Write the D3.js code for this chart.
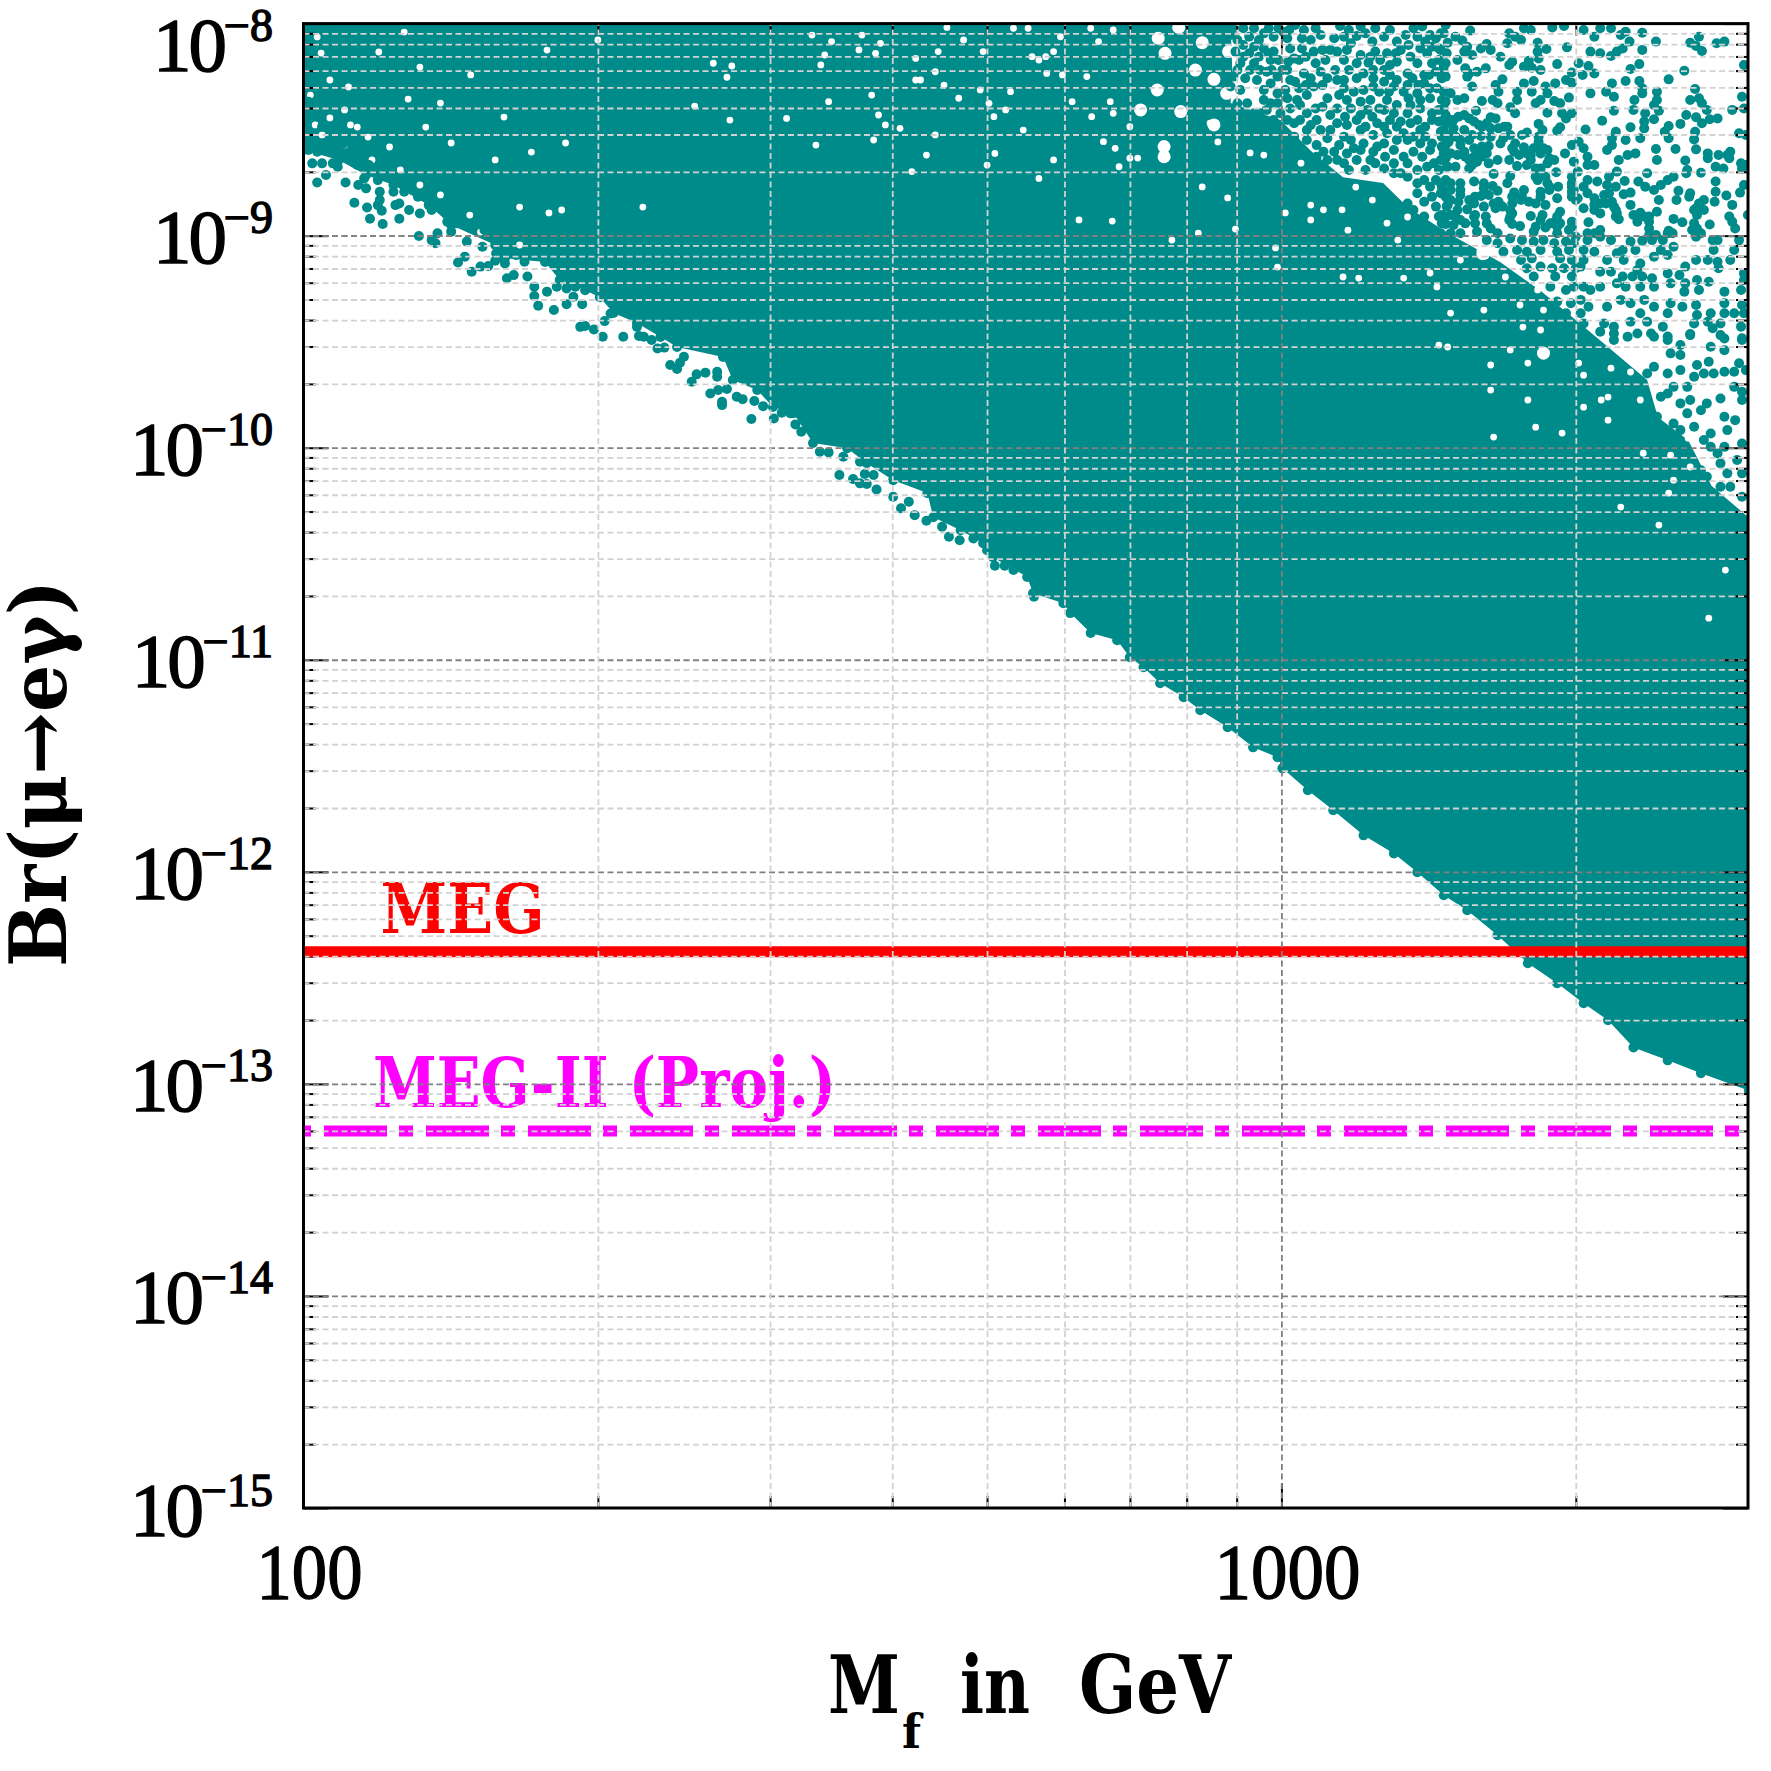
<!DOCTYPE html>
<html><head><meta charset="utf-8">
<style>html,body{margin:0;padding:0;background:#fff}svg{display:block}</style>
<script src="https://cdnjs.cloudflare.com/ajax/libs/d3/7.8.5/d3.min.js"></script>
</head><body><svg id="c" width="1771" height="1771"></svg>
<script>
// All pairs are [log10(M_f / GeV), log10(Br)]
const megLimit = 4.2e-13;
const megIIProjected = 6e-14;
const yTickExponents = [-8,-9,-10,-11,-12,-13,-14,-15];
const xTickLabels = [100,1000];
const xMinorTicks = [200,300,400,500,600,700,800,900,2000];
const minorMultipliers = [2,3,4,5,6,7,8,9];

// solid part of the cloud: upper edge left to right, then lower envelope
const cloudUpperEdge = [[2,-8],[2.948,-8],[2.950,-8.25],[2.948,-8.375],[2.999,-8.455],[3.03,-8.6],[3.063,-8.724],[3.104,-8.752],[3.129,-8.865],[3.170,-8.988],[3.224,-9.125],[3.265,-9.26],[3.301,-9.398],[3.334,-9.525],[3.374,-9.681],[3.385,-9.856],[3.416,-9.965],[3.44,-10.18],[3.478,-10.33]];
const cloudLowerEdge = [[2.000,-8.596],[2.036,-8.643],[2.064,-8.714],[2.092,-8.761],[2.128,-8.856],[2.151,-8.950],[2.196,-9.044],[2.205,-9.106],[2.247,-9.124],[2.262,-9.209],[2.273,-9.224],[2.303,-9.290],[2.317,-9.365],[2.341,-9.412],[2.365,-9.478],[2.382,-9.525],[2.429,-9.572],[2.439,-9.681],[2.464,-9.728],[2.480,-9.808],[2.501,-9.837],[2.521,-9.978],[2.556,-10.002],[2.576,-10.073],[2.603,-10.153],[2.638,-10.214],[2.644,-10.328],[2.672,-10.389],[2.695,-10.450],[2.705,-10.516],[2.740,-10.610],[2.746,-10.686],[2.777,-10.733],[2.784,-10.780],[2.805,-10.874],[2.832,-10.908],[2.845,-10.988],[2.859,-11.035],[2.876,-11.111],[2.900,-11.177],[2.917,-11.238],[2.945,-11.318],[2.971,-11.413],[2.996,-11.460],[3.001,-11.512],[3.027,-11.615],[3.053,-11.710],[3.084,-11.828],[3.115,-11.913],[3.139,-12.002],[3.166,-12.110],[3.190,-12.181],[3.221,-12.299],[3.252,-12.431],[3.282,-12.525],[3.309,-12.620],[3.334,-12.700],[3.360,-12.828],[3.395,-12.889],[3.429,-12.950],[3.478,-13.031]];

// unfilled flecks inside the solid part
const cloudGaps = [[2.433,-8.253],[2.438,-8.200],[2.419,-8.187],[2.400,-8.389],[2.436,-8.455],[2.494,-8.447],[2.520,-8.054],[2.540,-8.085],[2.571,-8.054],[2.590,-8.093],[2.568,-8.124],[2.585,-8.140],[2.533,-8.148],[2.529,-8.195],[2.537,-8.368],[2.581,-8.337],[2.588,-8.431],[2.595,-8.478],[2.610,-8.494],[2.626,-8.266],[2.631,-8.266],[2.626,-8.164],[2.646,-8.227],[2.655,-8.290],[2.670,-8.352],[2.658,-8.018],[2.675,-8.077],[2.649,-8.132],[2.692,-8.313],[2.701,-8.376],[2.718,-8.407],[2.706,-8.439],[2.695,-8.132],[2.726,-8.022],[2.741,-8.022],[2.745,-8.156],[2.759,-8.156],[2.752,-8.172],[2.767,-8.132],[2.776,-8.242],[2.760,-8.235],[2.774,-8.062],[2.805,-8.022],[2.813,-8.085],[2.828,-8.030],[2.801,-8.250],[2.806,-8.439],[2.828,-8.423],[2.825,-8.368],[2.786,-8.368],[2.736,-8.502],[2.646,-8.525],[2.707,-8.612],[2.767,-8.643],[2.830,-8.588],[2.845,-8.635],[2.834,-8.675],[2.752,-8.730],[2.793,-8.926],[2.827,-8.931],[2.723,-8.321],[2.583,-8.549],[2.524,-8.573],[2.622,-8.698],[2.637,-8.620],[2.699,-8.667],[2.845,-8.486],[2.818,-8.557],
[2.103,-8.040],[2.119,-8.205],[2.077,-8.134],[2.171,-8.242],[2.107,-8.356],[2.140,-8.375],[2.066,-8.535],[2.055,-8.488],[2.125,-8.488],[2.151,-8.563],[2.088,-8.582],[2.196,-8.643],[2.233,-8.606],[2.205,-8.441],[2.249,-8.125],[2.301,-8.077],[2.268,-8.563],[2.046,-8.299],[2.018,-8.139],[2.014,-8.063],[2.347,-8.865],[2.221,-8.865],[2.251,-8.893],[2.264,-8.879],[2.027,-8.266],[2.007,-8.337],[2.042,-8.407],
[2.019,-8.525],[2.042,-8.572],[2.070,-8.643],[2.099,-8.690],[2.119,-8.761],[2.140,-8.808],[2.170,-8.903],[2.181,-8.983],[2.221,-9.044],[2.048,-8.478],[2.027,-8.445],[2.012,-8.478],
[2.879,-8.582],[2.883,-8.629],[2.853,-8.634],[2.919,-8.770],[2.945,-8.822],[2.888,-9.021],[2.915,-8.988],[2.953,-8.969],[2.994,-9.058],[2.996,-9.148],[3.004,-8.893],[2.968,-8.610],[2.982,-8.620],[2.935,-8.558],[2.927,-8.469],[3.063,-9.195],[3.079,-9.200],[3.152,-9.176],[3.125,-9.200],[3.159,-9.242],[3.030,-8.856],[3.043,-8.878],[3.062,-8.878],[3.093,-8.832],[3.076,-8.771],[3.030,-8.926],[3.108,-8.941],[3.129,-8.912],[3.119,-9.021],[3.068,-8.974],[3.020,-8.658],[3.058,-8.676],
[3.206,-9.082],[3.203,-9.070],[3.209,-9.095],[3.183,-9.115],[3.229,-9.195],[3.262,-9.256],[3.268,-9.351],[3.244,-9.327],[3.207,-9.351],[3.173,-9.365],[3.247,-9.431],[3.265,-9.445],
[3.268,-9.554],[3.214,-9.728],[3.214,-9.610],[3.252,-9.601],[3.170,-9.525],[3.234,-9.539],[3.304,-9.601],[3.309,-9.658],[3.337,-9.625],[3.357,-9.643],[3.334,-9.761],[3.309,-9.809],[3.367,-9.775],[3.398,-9.823],[3.436,-9.903],[3.416,-9.955],[3.217,-9.950],[3.287,-9.931],[3.260,-9.903],[3.252,-9.775],[3.334,-9.870],[3.370,-10.026],[3.398,-10.035],[3.418,-10.091],[3.401,-10.153],[3.396,-10.214],[3.386,-10.365],[3.454,-10.577],[3.437,-10.804],[3.347,-10.280],[3.161,-9.516],[3.327,-9.775]];
const cloudGapsLarge = [[2.895,-8.018],[2.874,-8.069],[2.919,-8.090],[2.881,-8.140],[2.946,-8.132],[2.912,-8.219],[2.931,-8.263],[2.944,-8.329],[2.873,-8.313],[2.856,-8.407],[2.897,-8.415],[2.880,-8.580],[2.880,-8.628],[2.931,-8.478],[3.206,-9.085],[3.268,-9.554]];

// individually visible points: upper right
const sparsePointsRight = [[3.248,-8.022],[3.255,-8.030],[3.277,-8.018],[3.289,-8.011],[3.309,-8.030],[3.326,-8.022],[3.337,-8.022],[3.320,-8.062],[3.352,-8.038],[3.369,-8.043],[3.193,-8.033],[3.233,-8.046],[3.166,-8.046],[3.178,-8.062],[3.347,-8.054],
[3.170,-8.090],[3.185,-8.080],[3.190,-8.109],[3.210,-8.096],[3.204,-8.117],[3.231,-8.093],[3.239,-8.062],[3.245,-8.077],[3.262,-8.090],[3.292,-8.112],[3.271,-8.120],[3.262,-8.132],[3.214,-8.124],[3.195,-8.148],[3.187,-8.132],[3.316,-8.132],[3.326,-8.140],[3.337,-8.153],[3.343,-8.132],[3.349,-8.117],[3.356,-8.085],[3.383,-8.085],[3.369,-8.124],[3.418,-8.090],[3.424,-8.106],[3.430,-8.129],[3.427,-8.062],[3.445,-8.093],[3.453,-8.085],
[3.180,-8.172],[3.168,-8.187],[3.224,-8.156],[3.236,-8.180],[3.233,-8.195],[3.253,-8.175],[3.248,-8.203],[3.256,-8.208],[3.263,-8.164],[3.282,-8.191],[3.265,-8.219],[3.209,-8.211],[3.188,-8.211],[3.200,-8.227],[3.192,-8.235],[3.304,-8.187],[3.314,-8.200],[3.308,-8.242],[3.320,-8.235],[3.357,-8.214],[3.366,-8.191],[3.412,-8.222],[3.473,-8.195],[3.297,-8.231],[3.166,-8.227],
[3.164,-8.258],[3.190,-8.250],[3.226,-8.263],[3.219,-8.290],[3.222,-8.321],[3.195,-8.297],[3.248,-8.282],[3.258,-8.271],[3.270,-8.297],[3.280,-8.282],[3.291,-8.266],[3.297,-8.279],[3.241,-8.321],[3.256,-8.321],[3.272,-8.329],[3.173,-8.329],[3.166,-8.321],[3.316,-8.329],[3.332,-8.321],[3.338,-8.282],[3.340,-8.345],[3.352,-8.271],[3.366,-8.271],[3.369,-8.305],[3.369,-8.329],[3.384,-8.321],[3.396,-8.263],[3.423,-8.308],[3.471,-8.345],
[3.187,-8.352],[3.180,-8.360],[3.168,-8.368],[3.205,-8.365],[3.216,-8.360],[3.221,-8.376],[3.241,-8.360],[3.234,-8.395],[3.265,-8.360],[3.260,-8.376],[3.279,-8.365],[3.294,-8.349],[3.285,-8.376],[3.199,-8.411],[3.272,-8.420],[3.239,-8.423],[3.287,-8.423],[3.297,-8.423],[3.291,-8.447],[3.361,-8.360],[3.384,-8.360],[3.381,-8.384],[3.418,-8.360],[3.427,-8.352],[3.430,-8.376],[3.435,-8.407],[3.461,-8.407],[3.473,-8.400],[3.340,-8.411],[3.360,-8.407],[3.372,-8.423],[3.386,-8.411],[3.414,-8.431],[3.424,-8.442],
[3.166,-8.455],[3.176,-8.455],[3.187,-8.431],[3.197,-8.462],[3.214,-8.442],[3.219,-8.447],[3.205,-8.486],[3.214,-8.494],[3.228,-8.486],[3.231,-8.486],[3.263,-8.473],[3.267,-8.502],[3.285,-8.489],[3.282,-8.505],[3.166,-8.502],[3.328,-8.458],[3.357,-8.489],[3.371,-8.462],[3.381,-8.451],[3.371,-8.494],[3.408,-8.473],[3.430,-8.470],[3.438,-8.451],[3.446,-8.447],[3.396,-8.483],[3.392,-8.510],[3.423,-8.510],[3.311,-8.499],[3.342,-8.510],[3.468,-8.517],[3.475,-8.525],[3.246,-8.525],[3.251,-8.514],
[3.178,-8.533],[3.204,-8.530],[3.234,-8.525],[3.192,-8.549],[3.171,-8.557],[3.183,-8.573],[3.164,-8.580],[3.263,-8.533],[3.205,-8.580],[3.212,-8.577],[3.224,-8.565],[3.239,-8.565],[3.263,-8.557],[3.248,-8.583],[3.272,-8.596],[3.297,-8.573],[3.304,-8.557],[3.309,-8.588],[3.338,-8.541],[3.338,-8.573],[3.352,-8.549],[3.367,-8.541],[3.396,-8.541],[3.422,-8.546],[3.333,-8.596],[3.383,-8.591],[3.403,-8.591],[3.424,-8.593],[3.290,-8.612],[3.204,-8.612],[3.187,-8.604],[3.238,-8.604],[3.258,-8.588],[3.436,-8.612],[3.447,-8.620],[3.459,-8.604],[3.456,-8.620],
[3.168,-8.635],[3.180,-8.620],[3.205,-8.628],[3.221,-8.643],[3.233,-8.643],[3.243,-8.620],[3.255,-8.620],[3.279,-8.643],[3.299,-8.651],[3.313,-8.628],[3.354,-8.620],[3.362,-8.612],[3.345,-8.643],[3.384,-8.643],[3.413,-8.646],[3.436,-8.635],[3.458,-8.635],[3.470,-8.659],[3.475,-8.667],[3.170,-8.675],[3.178,-8.675],[3.195,-8.667],[3.192,-8.683],[3.241,-8.672],[3.265,-8.683],[3.272,-8.659],[3.320,-8.667],[3.313,-8.667],[3.444,-8.675],[3.452,-8.683],[3.415,-8.690],[3.471,-8.683],[3.217,-8.709],[3.234,-8.719],[3.281,-8.701],[3.303,-8.698],[3.335,-8.722],[3.343,-8.698],[3.374,-8.706],[3.414,-8.706],[3.429,-8.703],[3.260,-8.722],[3.251,-8.667],
[3.163,-8.753],[3.173,-8.753],[3.183,-8.753],[3.197,-8.745],[3.207,-8.777],[3.216,-8.766],[3.231,-8.753],[3.262,-8.738],[3.272,-8.753],[3.283,-8.769],[3.297,-8.753],[3.299,-8.785],[3.313,-8.738],[3.323,-8.745],[3.333,-8.761],[3.342,-8.769],[3.351,-8.742],[3.365,-8.745],[3.372,-8.769],[3.381,-8.785],[3.388,-8.761],[3.395,-8.738],[3.401,-8.722],[3.444,-8.745],[3.473,-8.761],[3.248,-8.785],[3.238,-8.796],[3.265,-8.793],[3.274,-8.785],[3.297,-8.816],[3.313,-8.800],[3.330,-8.808],[3.350,-8.805],[3.357,-8.797],[3.406,-8.788],[3.418,-8.800],[3.444,-8.793],[3.455,-8.811],[3.469,-8.797],[3.221,-8.788],[3.204,-8.813],[3.183,-8.808],[3.212,-8.808],
[3.181,-8.840],[3.197,-8.848],[3.170,-8.855],[3.222,-8.840],[3.245,-8.832],[3.253,-8.840],[3.260,-8.848],[3.270,-8.855],[3.282,-8.824],[3.303,-8.824],[3.320,-8.824],[3.320,-8.855],[3.332,-8.848],[3.338,-8.840],[3.386,-8.832],[3.404,-8.832],[3.417,-8.816],[3.432,-8.832],[3.443,-8.840],[3.427,-8.848],[3.461,-8.855],[3.180,-8.879],[3.190,-8.876],[3.207,-8.863],[3.219,-8.871],[3.236,-8.848],[3.234,-8.879],[3.309,-8.871],[3.357,-8.855],[3.342,-8.879],[3.424,-8.871],[3.432,-8.879],[3.285,-8.887],[3.267,-8.903],[3.255,-8.907],[3.282,-8.910],[3.326,-8.895],[3.384,-8.887],[3.367,-8.892],[3.360,-8.903],[3.477,-8.903],[3.178,-8.910],[3.164,-8.903],[3.198,-8.903],[3.342,-8.910],[3.425,-8.903],[3.458,-8.910],
[3.168,-8.945],[3.176,-8.950],[3.188,-8.942],[3.198,-8.942],[3.210,-8.942],[3.214,-8.966],[3.236,-8.945],[3.244,-8.955],[3.260,-8.958],[3.270,-8.961],[3.280,-8.934],[3.297,-8.934],[3.294,-8.973],[3.314,-8.937],[3.345,-8.923],[3.364,-8.934],[3.376,-8.934],[3.401,-8.921],[3.410,-8.937],[3.422,-8.942],[3.438,-8.947],[3.461,-8.934],[3.464,-8.966],[3.200,-8.981],[3.183,-8.989],[3.173,-8.989],[3.221,-8.989],[3.258,-8.981],[3.282,-8.989],[3.313,-8.989],[3.326,-8.973],[3.320,-8.989],[3.376,-8.966],[3.396,-8.977],[3.425,-8.966],[3.420,-8.973],[3.383,-8.997],[3.400,-8.989],[3.376,-8.997],
[3.313,-9.021],[3.326,-9.005],[3.337,-9.021],[3.357,-9.028],[3.369,-9.024],[3.379,-9.021],[3.390,-9.021],[3.401,-9.052],[3.388,-9.068],[3.441,-9.021],[3.468,-9.021],[3.463,-9.068],[3.442,-9.068],[3.309,-9.068],[3.320,-9.076],[3.349,-9.068],[3.343,-9.083],[3.362,-9.068],[3.381,-9.099],[3.395,-9.091],[3.333,-9.115],[3.309,-9.115],[3.306,-9.146],[3.350,-9.115],[3.367,-9.131],[3.364,-9.162],[3.413,-9.146],[3.424,-9.115],[3.436,-9.115],[3.446,-9.123],[3.459,-9.115],[3.473,-9.178],[3.447,-9.154],[3.326,-9.170],[3.337,-9.170],[3.349,-9.193],[3.359,-9.193],[3.369,-9.193],[3.379,-9.201],[3.395,-9.178],[3.407,-9.186],[3.473,-9.209],[3.398,-9.225],[3.413,-9.225],[3.425,-9.209],[3.437,-9.217],[3.309,-9.241],[3.316,-9.256],[3.326,-9.241],[3.343,-9.225],[3.352,-9.241],[3.367,-9.241],[3.381,-9.241],[3.412,-9.264],[3.427,-9.256],[3.453,-9.264],[3.470,-9.256],[3.306,-9.303],[3.314,-9.335],[3.333,-9.335],[3.347,-9.303],[3.357,-9.319],[3.371,-9.303],[3.381,-9.335],[3.398,-9.319],[3.410,-9.335],[3.424,-9.327],[3.453,-9.319],[3.471,-9.327],[3.306,-9.366],[3.367,-9.366],[3.395,-9.366],[3.425,-9.374],[3.439,-9.366],[3.453,-9.366],[3.463,-9.366],[3.473,-9.366],[3.309,-9.414],[3.330,-9.414],[3.340,-9.429],[3.357,-9.406],[3.374,-9.406],[3.390,-9.429],[3.422,-9.414],[3.436,-9.406],[3.449,-9.414],[3.470,-9.429],[3.326,-9.453],[3.340,-9.461],[3.364,-9.461],[3.378,-9.461],[3.395,-9.476],[3.418,-9.464],[3.441,-9.437],[3.449,-9.469],[3.471,-9.484],
[3.340,-9.492],[3.354,-9.477],[3.381,-9.477],[3.395,-9.492],[3.398,-9.555],[3.408,-9.516],[3.418,-9.469],[3.408,-9.563],[3.381,-9.618],[3.374,-9.650],[3.395,-9.650],[3.408,-9.634],[3.425,-9.610],[3.437,-9.595],[3.453,-9.485],[3.439,-9.524],[3.471,-9.492],[3.453,-9.540],[3.468,-9.602],[3.453,-9.642],[3.463,-9.642],[3.475,-9.634],[3.442,-9.650],[3.432,-9.650],[3.422,-9.665],[3.401,-9.713],[3.388,-9.760],[3.415,-9.713],[3.463,-9.713],[3.471,-9.736],[3.418,-9.775],[3.435,-9.791],[3.449,-9.768],[3.471,-9.775],[3.429,-9.823],[3.453,-9.854],[3.464,-9.870],[3.408,-9.791],[3.395,-9.744],[3.415,-9.838],[3.422,-9.901],[3.439,-9.933],[3.456,-9.917],[3.471,-9.980],[3.453,-9.996],[3.432,-9.964],[3.401,-9.886],[3.408,-9.917],[3.384,-9.854],[3.439,-9.996],[3.449,-10.074],[3.435,-10.137],[3.456,-10.121],[3.432,-10.184],[3.442,-10.216],[3.466,-10.058],[3.471,-10.121],[3.449,-10.184],[3.459,-10.184],[3.471,-10.231],[3.429,-10.106],[3.446,-10.027],
[3.210,-9.021],[3.221,-9.036],[3.234,-9.013],[3.246,-9.021],[3.258,-9.028],[3.268,-9.021],[3.279,-9.036],[3.291,-9.028],[3.299,-9.036],[3.227,-9.076],[3.241,-9.068],[3.251,-9.076],[3.265,-9.068],[3.282,-9.076],[3.294,-9.068],[3.245,-9.115],[3.256,-9.107],[3.285,-9.107],[3.297,-9.115],[3.251,-9.154],[3.265,-9.146],[3.277,-9.154],[3.289,-9.154],[3.301,-9.154],[3.280,-9.193],[3.297,-9.193],[3.258,-9.193],[3.275,-9.241],[3.291,-9.256],[3.299,-9.241],[3.282,-9.311],[3.296,-9.319],[3.291,-9.366],
[3.173,-8.455],[3.181,-8.439],[3.192,-8.447],[3.202,-8.478],[3.210,-8.470],[3.222,-8.494],[3.176,-8.494],[3.187,-8.502],[3.195,-8.525],[3.214,-8.533],[3.227,-8.541],[3.173,-8.525],[3.164,-8.533],[3.183,-8.549],[3.197,-8.588],[3.210,-8.612],[3.197,-8.628],[3.192,-8.643],[3.200,-8.651],[3.212,-8.659],[3.188,-8.628],[3.173,-8.612],[3.255,-8.643],[3.265,-8.612],[3.268,-8.588],[3.262,-8.580],[3.236,-8.588],[3.251,-8.612],[3.274,-8.635],[3.260,-8.683],[3.265,-8.706],[3.270,-8.722],[3.274,-8.769],[3.265,-8.816],[3.246,-8.816],[3.236,-8.816],[3.226,-8.863],[3.217,-8.848],[3.173,-8.832],[3.168,-8.816],[3.192,-8.832],[3.198,-8.816],[3.183,-8.785],[3.207,-8.753],[3.173,-8.785],[3.163,-8.800],[3.164,-8.942],[3.163,-8.989],[3.183,-8.926],[3.197,-8.910],[3.209,-8.910],[3.173,-8.903],[3.285,-8.942],[3.275,-8.942],[3.265,-8.926],[3.297,-8.958],[3.282,-8.958],[3.301,-9.005],[3.234,-8.910],[3.233,-8.926],[3.236,-8.895],[3.297,-8.722],[3.297,-8.769],[3.297,-8.793],[3.301,-8.832],[3.309,-8.769],[3.335,-8.800],[3.340,-8.863],[3.343,-8.895],[3.320,-8.879],[3.326,-8.848],[3.371,-8.910],[3.376,-8.910],[3.422,-8.879],[3.429,-8.989],[3.424,-9.005],[3.395,-8.989],[3.446,-9.021]];

// individually visible points: upper middle
const sparsePointsMiddle = [[2.948,-8.054],[2.961,-8.022],[2.972,-8.022],[2.982,-8.046],[2.992,-8.062],[2.961,-8.101],[2.972,-8.109],[2.982,-8.117],[2.992,-8.132],[2.961,-8.156],[2.972,-8.187],[2.978,-8.219],[2.989,-8.172],[2.955,-8.219],[2.968,-8.219],[2.985,-8.227],[2.996,-8.250],[2.948,-8.297],[2.982,-8.313],[2.996,-8.329],[2.989,-8.376],[2.965,-8.376],[2.972,-8.423],[2.978,-8.423],[2.955,-8.376],[2.996,-8.376],
[2.951,-8.022],[2.955,-8.077],[2.967,-8.062],[2.977,-8.077],[2.987,-8.022],[2.997,-8.022],[2.953,-8.132],[2.967,-8.140],[2.977,-8.156],[2.987,-8.140],[2.997,-8.172],[2.958,-8.187],[2.990,-8.219],[2.963,-8.258],[2.975,-8.266],[2.989,-8.282],[3.001,-8.219],[2.951,-8.250],[2.958,-8.313],[2.982,-8.360],[2.955,-8.431],[2.963,-8.439],[2.985,-8.407],[2.999,-8.423],[2.992,-8.455],
[3.008,-8.030],[3.023,-8.030],[3.006,-8.069],[3.021,-8.069],[3.035,-8.022],[3.060,-8.011],[3.081,-8.014],[3.064,-8.062],[3.077,-8.058],[3.093,-8.085],[3.105,-8.062],[3.118,-8.085],[3.135,-8.022],[3.144,-8.014],[3.139,-8.062],[3.152,-8.054],[3.163,-8.046],[3.168,-8.007],[3.147,-8.085],[3.161,-8.117],[3.158,-8.069],[3.009,-8.117],[3.021,-8.117],[3.033,-8.132],[3.050,-8.124],[3.067,-8.124],[3.081,-8.148],[3.096,-8.132],[3.108,-8.140],[3.122,-8.124],[3.132,-8.156],[3.149,-8.140],[3.163,-8.124],[3.169,-8.140],[3.007,-8.180],[3.018,-8.172],[3.035,-8.187],[3.045,-8.172],[3.064,-8.172],[3.089,-8.184],[3.101,-8.172],[3.111,-8.195],[3.118,-8.180],[3.161,-8.172],[3.006,-8.219],[3.023,-8.235],[3.040,-8.227],[3.055,-8.219],[3.069,-8.219],[3.084,-8.235],[3.094,-8.219],[3.111,-8.242],[3.129,-8.235],[3.146,-8.242],[3.158,-8.227],[3.168,-8.250],[3.014,-8.274],[3.030,-8.258],[3.047,-8.258],[3.064,-8.266],[3.077,-8.258],[3.105,-8.274],[3.118,-8.266],[3.129,-8.290],[3.164,-8.258],[3.004,-8.313],[3.018,-8.305],[3.033,-8.297],[3.059,-8.337],[3.074,-8.321],[3.100,-8.321],[3.115,-8.297],[3.146,-8.282],[3.159,-8.305],[3.169,-8.321],[3.016,-8.360],[3.026,-8.337],[3.047,-8.352],[3.067,-8.360],[3.081,-8.368],[3.091,-8.360],[3.108,-8.360],[3.125,-8.321],[3.139,-8.329],[3.152,-8.352],[3.164,-8.360],[3.009,-8.400],[3.026,-8.423],[3.042,-8.392],[3.057,-8.400],[3.071,-8.400],[3.088,-8.407],[3.100,-8.400],[3.115,-8.423],[3.129,-8.423],[3.142,-8.400],[3.154,-8.423],[3.166,-8.400],[3.013,-8.470],[3.006,-8.455],[3.036,-8.455],[3.057,-8.470],[3.077,-8.455],[3.098,-8.470],[3.111,-8.455],[3.122,-8.462],[3.139,-8.455],[3.161,-8.462],[3.169,-8.470],[3.168,-8.431],[3.026,-8.502],[3.040,-8.502],[3.064,-8.533],[3.081,-8.502],[3.094,-8.525],[3.108,-8.517],[3.125,-8.517],[3.142,-8.502],[3.163,-8.510],[3.013,-8.533],[3.047,-8.541],[3.071,-8.549],[3.084,-8.565],[3.105,-8.565],[3.129,-8.549],[3.142,-8.565],[3.154,-8.565],[3.168,-8.573],[3.020,-8.588],[3.036,-8.573],[3.054,-8.604],[3.067,-8.612],[3.081,-8.596],[3.094,-8.604],[3.115,-8.596],[3.135,-8.604],[3.152,-8.596],[3.166,-8.612],[3.057,-8.643],[3.047,-8.643],[3.077,-8.643],[3.091,-8.643],[3.115,-8.659],[3.129,-8.659],[3.156,-8.659],[3.169,-8.675],[3.086,-8.690],[3.105,-8.683],[3.129,-8.722],[3.146,-8.738],[3.168,-8.738],[3.152,-8.769],[3.139,-8.800],[3.166,-8.800],[3.146,-8.840],[3.169,-8.863],[3.166,-8.942],[3.129,-8.848],
[3.002,-8.038],[3.014,-8.007],[3.030,-8.077],[3.040,-8.054],[3.054,-8.069],[3.069,-8.030],[3.086,-8.046],[3.096,-8.022],[3.111,-8.030],[3.127,-8.054],[3.130,-8.101],[3.142,-8.117],[3.154,-8.109],[3.071,-8.093],[3.057,-8.132],[3.042,-8.124],[3.025,-8.156],[3.013,-8.164],[3.077,-8.187],[3.094,-8.258],[3.091,-8.156],[3.117,-8.140],[3.139,-8.187],[3.154,-8.187],[3.166,-8.203],[3.134,-8.258],[3.151,-8.242],[3.140,-8.290],[3.152,-8.305],[3.105,-8.219],[3.057,-8.266],[3.042,-8.290],[3.025,-8.290],[3.009,-8.266],[3.064,-8.305],[3.084,-8.313],[3.094,-8.297],[3.110,-8.321],[3.130,-8.352],[3.142,-8.360],[3.132,-8.384],[3.118,-8.384],[3.105,-8.407],[3.093,-8.439],[3.081,-8.431],[3.065,-8.439],[3.050,-8.431],[3.035,-8.400],[3.019,-8.384],[3.006,-8.352],[3.019,-8.455],[3.030,-8.478],[3.050,-8.502],[3.067,-8.478],[3.086,-8.486],[3.105,-8.486],[3.118,-8.486],[3.132,-8.470],[3.147,-8.486],[3.154,-8.455],[3.161,-8.407],[3.147,-8.533],[3.135,-8.533],[3.118,-8.549],[3.098,-8.580],[3.074,-8.588],[3.059,-8.573],[3.043,-8.604],[3.026,-8.549],[3.036,-8.628],[3.064,-8.659],[3.069,-8.690],[3.096,-8.659],[3.106,-8.628],[3.125,-8.628],[3.144,-8.628],[3.163,-8.643],[3.149,-8.675],[3.139,-8.690],[3.122,-8.706],[3.115,-8.706],[3.161,-8.690],[3.139,-8.753],[3.158,-8.738],[3.164,-8.769],[3.154,-8.816],[3.158,-8.863],[3.161,-8.910],[3.146,-8.910],[3.135,-8.879],[3.168,-8.910]];

// individually visible points: lower-left fringe of the cloud
const fringePoints = [[2.005,-8.368],[2.016,-8.337],[2.007,-8.423],[2.019,-8.486],[2.037,-8.470],[2.009,-8.549],[2.028,-8.549],[2.041,-8.565],[2.005,-8.596],[2.014,-8.604],[2.046,-8.628],[2.019,-8.659],[2.009,-8.659],[2.030,-8.659],[2.055,-8.667],[2.067,-8.667],[2.080,-8.667],[2.087,-8.643],[2.035,-8.675],[2.044,-8.635],[2.023,-8.714],[2.014,-8.749],[2.043,-8.749],[2.062,-8.730],[2.056,-8.761],[2.064,-8.777],[2.076,-8.738],[2.094,-8.745],[2.092,-8.793],[2.103,-8.793],[2.078,-8.793],[2.078,-8.832],[2.052,-8.845],[2.065,-8.867],[2.076,-8.856],[2.094,-8.856],[2.098,-8.848],[2.080,-8.882],[2.108,-8.879],[2.068,-8.920],[2.098,-8.920],[2.081,-8.945],[2.119,-8.895],[2.131,-8.879],[2.118,-9.002],[2.131,-9.021],[2.137,-8.989],[2.135,-9.036],[2.117,-8.816],[2.124,-8.800],[2.147,-8.895],[2.147,-8.934],[2.165,-8.871],[2.181,-8.911],[2.197,-8.911],[2.156,-8.942],[2.169,-8.958],[2.151,-8.981],[2.185,-8.973],[2.197,-8.966],[2.167,-9.028],[2.183,-9.052],[2.197,-9.083],[2.165,-9.099],[2.158,-9.127],[2.172,-9.170],[2.181,-9.146],[2.189,-9.143],[2.196,-9.118],[2.206,-9.107],[2.206,-9.131],[2.208,-9.201],[2.217,-9.091],[2.215,-9.186],[2.229,-9.193],[2.226,-9.123],[2.236,-9.241],[2.236,-9.285],[2.249,-9.264],[2.259,-9.241],[2.270,-9.241],[2.240,-9.330],[2.256,-9.351],
[2.269,-9.249],[2.278,-9.241],[2.288,-9.257],[2.276,-9.288],[2.274,-9.197],[2.269,-9.323],[2.285,-9.323],[2.314,-9.367],[2.283,-9.430],[2.288,-9.426],[2.297,-9.442],[2.306,-9.477],[2.327,-9.477],[2.308,-9.403],[2.341,-9.430],[2.343,-9.473],[2.348,-9.477],[2.356,-9.492],[2.362,-9.532],[2.369,-9.528],[2.375,-9.610],[2.382,-9.629],[2.385,-9.599],[2.389,-9.571],[2.397,-9.689],[2.402,-9.654],[2.411,-9.646],[2.423,-9.642],[2.423,-9.665],[2.424,-9.728],[2.416,-9.744],[2.428,-9.783],[2.428,-9.799],[2.433,-9.723],[2.443,-9.760],[2.449,-9.771],[2.458,-9.865],[2.461,-9.780],[2.470,-9.804],[2.481,-9.862],[2.489,-9.835],[2.498,-9.838],[2.503,-9.890],[2.509,-9.925],[2.528,-10.019],[2.537,-10.022],[2.552,-10.043],[2.548,-10.129],[2.562,-10.148],[2.569,-10.066],[2.569,-10.168],[2.576,-10.171],[2.586,-10.197],[2.574,-10.124],[2.583,-10.129],[2.603,-10.231],[2.611,-10.286],[2.619,-10.255],[2.625,-10.318],[2.637,-10.344],[2.653,-10.373],[2.660,-10.420],[2.671,-10.436],[2.685,-10.428],[2.707,-10.557],[2.717,-10.557],[2.699,-10.483],[2.726,-10.577],[2.747,-10.703]];

const width = 1771, height = 1771;
const plot = {left: 303.5, right: 1748, top: 23.6, bottom: 1508};
const teal = "#008B8B";

const x = d3.scaleLog().domain([100, 3000]).range([plot.left, plot.right]);
const y = d3.scaleLog().domain([1e-15, 1e-8]).range([plot.bottom, plot.top]);
const px = d => x(Math.pow(10, d[0]));
const py = d => y(Math.pow(10, d[1]));

const svg = d3.select("#c");
svg.append("rect").attr("width", width).attr("height", height).attr("fill", "#fff");
svg.append("defs").append("clipPath").attr("id", "plotclip").append("rect")
  .attr("x", plot.left).attr("y", plot.top)
  .attr("width", plot.right - plot.left).attr("height", plot.bottom - plot.top);

const marks = svg.append("g").attr("clip-path", "url(#plotclip)");
const line = d3.line().x(px).y(py);
marks.append("path")
  .attr("d", line(cloudUpperEdge.concat(cloudLowerEdge.slice().reverse())) + "Z")
  .attr("fill", teal);
marks.append("g").selectAll("circle").data(cloudGaps).join("circle")
  .attr("cx", px).attr("cy", py).attr("r", 3.4).attr("fill", "#fff");
marks.append("g").selectAll("circle").data(cloudGapsLarge).join("circle")
  .attr("cx", px).attr("cy", py).attr("r", 6.5).attr("fill", "#fff");
marks.append("g").selectAll("circle")
  .data(sparsePointsRight.concat(sparsePointsMiddle, fringePoints, cloudLowerEdge))
  .join("circle").attr("cx", px).attr("cy", py).attr("r", 5).attr("fill", teal);

// ticks, under the grid
const decades = d3.range(-15, -8);
const yMajor = decades.concat([-8]).map(e => Math.pow(10, e));
const yMinor = decades.flatMap(e => minorMultipliers.map(m => m * Math.pow(10, e)));
const tickGroup = svg.append("g");
function addAxis(parent, axis, tx, ty) {
  const g = parent.append("g").attr("transform", `translate(${tx},${ty})`).call(axis);
  g.select(".domain").remove();
  g.selectAll("text").remove();
  return g;
}
const tickStyle = g => g.selectAll("line").attr("stroke", "#000").attr("stroke-width", 2);
tickStyle(addAxis(tickGroup, d3.axisLeft(y).tickValues(yMinor).tickSize(-12), plot.left, 0));
tickStyle(addAxis(tickGroup, d3.axisLeft(y).tickValues(yMajor).tickSize(-25), plot.left, 0));
tickStyle(addAxis(tickGroup, d3.axisRight(y).tickValues(yMinor).tickSize(-12), plot.right, 0));
tickStyle(addAxis(tickGroup, d3.axisRight(y).tickValues(yMajor).tickSize(-25), plot.right, 0));
tickStyle(addAxis(tickGroup, d3.axisBottom(x).tickValues(xMinorTicks).tickSize(-12), 0, plot.bottom));
tickStyle(addAxis(tickGroup, d3.axisBottom(x).tickValues([1000]).tickSize(-25), 0, plot.bottom));
tickStyle(addAxis(tickGroup, d3.axisTop(x).tickValues(xMinorTicks).tickSize(-12), 0, plot.top));
tickStyle(addAxis(tickGroup, d3.axisTop(x).tickValues([1000]).tickSize(-25), 0, plot.top));

// limit lines
const lineClip = svg.append("g").attr("clip-path", "url(#plotclip)");
lineClip.append("line").attr("x1", plot.left).attr("x2", plot.right)
  .attr("y1", y(megLimit)).attr("y2", y(megLimit))
  .attr("stroke", "#f00").attr("stroke-width", 11);
lineClip.append("line").attr("x1", plot.left).attr("x2", plot.right)
  .attr("y1", y(megIIProjected)).attr("y2", y(megIIProjected))
  .attr("stroke", "#f0f").attr("stroke-width", 11)
  .attr("stroke-dasharray", "63 12 14 13").attr("stroke-dashoffset", 81.5);

const slab = "'DejaVu Serif', serif";
const times = "'Liberation Serif', serif";
function slabText(str, xx, yy, size, len, color) {
  return svg.append("text").attr("x", xx).attr("y", yy).text(str)
    .attr("font-family", slab).attr("font-weight", "bold").attr("font-size", size)
    .attr("fill", color).attr("textLength", len).attr("lengthAdjust", "spacingAndGlyphs");
}
slabText("MEG", 380.6, 932.7, 70, 164, "#f00");
slabText("MEG-II (Proj.)", 373, 1106.7, 70, 463, "#f0f");

// grid, over everything in the plot
const gridGroup = svg.append("g");
function gridStyle(g, color) {
  g.selectAll("line").attr("stroke", color).attr("stroke-width", 1.8).attr("stroke-dasharray", "6 3.5");
}
const W = plot.right - plot.left, H = plot.bottom - plot.top;
gridStyle(addAxis(gridGroup, d3.axisLeft(y).tickValues(yMinor).tickSize(-W), plot.left, 0), "#d2d2d2");
gridStyle(addAxis(gridGroup, d3.axisLeft(y).tickValues(yMajor.slice(1, -1).concat([1e-9])).tickSize(-W), plot.left, 0), "#808080");
gridStyle(addAxis(gridGroup, d3.axisBottom(x).tickValues(xMinorTicks).tickSize(-H), 0, plot.bottom), "#d2d2d2");
gridStyle(addAxis(gridGroup, d3.axisBottom(x).tickValues([1000]).tickSize(-H), 0, plot.bottom), "#808080");

// frame
svg.append("rect").attr("x", plot.left).attr("y", plot.top).attr("width", W).attr("height", H)
  .attr("fill", "none").attr("stroke", "#000").attr("stroke-width", 3);

// y tick labels
yTickExponents.forEach(e => {
  const base = y(Math.pow(10, e)) + (e === -8 ? 47 : 27.5);
  const t = svg.append("text").attr("x", 273).attr("y", base).attr("text-anchor", "end")
    .attr("font-family", times).attr("font-size", 77).attr("fill", "#000")
    .attr("stroke", "#000").attr("stroke-width", 1.4);
  t.append("tspan").attr("letter-spacing", -3).text("10");
  t.append("tspan").attr("font-size", 46).attr("dy", -30).text("\u2212" + Math.abs(e));
});
// x tick labels
xTickLabels.forEach(v => {
  const w = v === 100 ? 106 : 146;
  svg.append("text").attr("x", x(v) + 6 - w / 2).attr("y", 1598)
    .attr("font-family", times).attr("font-size", 79).attr("fill", "#000")
    .attr("stroke", "#000").attr("stroke-width", 1.4)
    .attr("textLength", w).attr("lengthAdjust", "spacingAndGlyphs").text(v);
});
// axis titles
slabText("M", 828, 1713, 80, 72, "#000");
slabText("f", 902, 1748, 46, 19, "#000");
slabText("in", 960, 1713, 80, 70, "#000");
slabText("GeV", 1079, 1713, 80, 152, "#000");
svg.append("text").attr("transform", "translate(66,967) rotate(-90)")
  .attr("font-family", slab).attr("font-weight", "bold").attr("font-size", 78).attr("fill", "#000")
  .attr("textLength", 387).attr("lengthAdjust", "spacingAndGlyphs").text("Br(\u03bc\u2192e\u03b3)");
</script></body></html>
